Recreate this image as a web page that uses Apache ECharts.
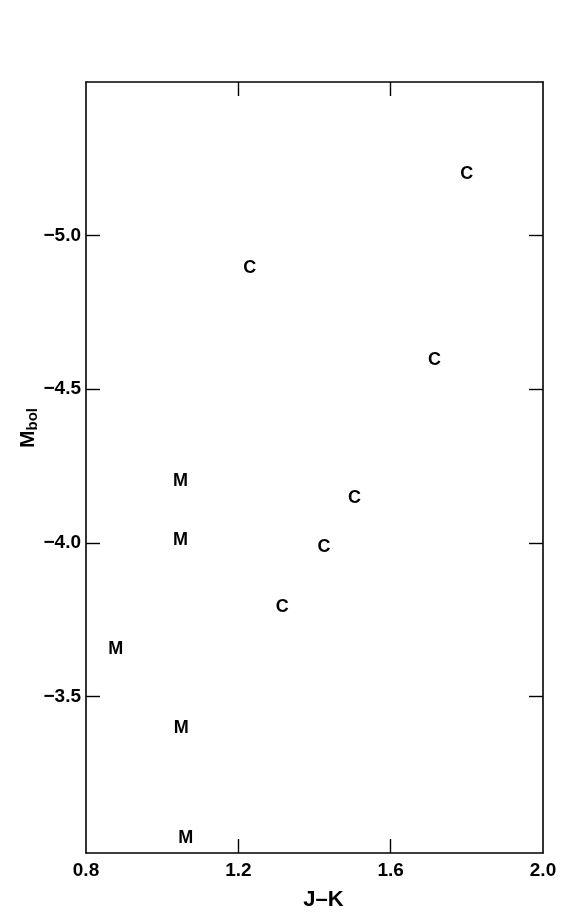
<!DOCTYPE html>
<html>
<head>
<meta charset="utf-8">
<script src="https://cdn.jsdelivr.net/npm/echarts@6/dist/echarts.min.js"></script>
<style>html,body{margin:0;padding:0;background:#fff}#c{width:570px;height:919px}</style>
</head>
<body>
<div id="c"></div>
<script>
// Carbon stars (C)
var cJK   = [1.80, 1.23, 1.715, 1.505, 1.425, 1.315];
var cMbol = [-5.20, -4.895, -4.595, -4.147, -3.987, -3.792];
// M stars (M)
var mJK   = [1.048, 1.048, 0.878, 1.050, 1.062];
var mMbol = [-4.201, -4.009, -3.654, -3.398, -3.040];
var xTicks = [0.8, 1.2, 1.6, 2.0];
var yTicks = [-5.0, -4.5, -4.0, -3.5];

function pairs(xs, ys){ return xs.map(function(x,i){ return [x, ys[i]]; }); }

var FONT = '"Liberation Sans", Arial, Helvetica, sans-serif';
var chart = echarts.init(document.getElementById('c'));
var axisLine = {show:true, lineStyle:{color:'#000', width:1.6}};
function tick(vals){ return {show:true, inside:true, length:14, customValues:vals, lineStyle:{color:'#000', width:1.4}}; }

function yFmt(v){
  for (var i=0;i<yTicks.length;i++) if (Math.abs(v-yTicks[i])<1e-6) return '\u2212' + Math.abs(v).toFixed(1);
  return '';
}
function xFmt(v){
  for (var i=0;i<xTicks.length;i++) if (Math.abs(v-xTicks[i])<1e-6) return v.toFixed(1);
  return '';
}
var labelStyle = {show:true, position:'inside', fontFamily:FONT, fontWeight:'bold', fontSize:18, color:'#000', opacity:1, textBorderWidth:0};

chart.setOption({
  animation:false,
  backgroundColor:'#fff',
  grid:{left:86, top:82, right:27, bottom:66},
  xAxis:[{
    type:'value', min:0.8, max:2.0, interval:0.4, position:'bottom',
    axisLine:axisLine, axisTick:tick([1.2, 1.6]), splitLine:{show:false},
    axisLabel:{formatter:xFmt, fontFamily:FONT, fontWeight:'bold', fontSize:19, color:'#000', margin:8, showMinLabel:true, showMaxLabel:true},
    name:'J\u2013K', nameLocation:'middle', nameGap:36,
    nameTextStyle:{fontFamily:FONT, fontWeight:'bold', fontSize:22, color:'#000', padding:[0,0,0,18]}
  },{
    type:'value', min:0.8, max:2.0, interval:0.4, position:'top',
    axisLine:axisLine, axisTick:tick([1.2, 1.6]), splitLine:{show:false}, axisLabel:{show:false}
  }],
  yAxis:[{
    type:'value', min:-5.5, max:-2.99, interval:0.5, inverse:true, position:'left',
    axisLine:axisLine, axisTick:tick(yTicks), splitLine:{show:false},
    axisLabel:{formatter:yFmt, fontFamily:FONT, fontWeight:'bold', fontSize:19, color:'#000', margin:5, showMaxLabel:false}
  },{
    type:'value', min:-5.5, max:-2.99, interval:0.5, inverse:true, position:'right',
    axisLine:axisLine, axisTick:tick(yTicks), splitLine:{show:false}, axisLabel:{show:false}
  }],
  graphic:[{
    type:'text', left:18, top:408, rotation:Math.PI/2,
    style:{
      text:'{m|M}{s|bol}',
      rich:{
        m:{fontFamily:FONT, fontWeight:'bold', fontSize:21, fill:'#000'},
        s:{fontFamily:FONT, fontWeight:'bold', fontSize:15, fill:'#000', padding:[8,0,0,0]}
      }
    }
  }],
  series:[{
    name:'C', type:'scatter', data:pairs(cJK, cMbol), symbolSize:18,
    itemStyle:{color:'rgba(0,0,0,0)'},
    label:Object.assign({formatter:'C'}, labelStyle)
  },{
    name:'M', type:'scatter', data:pairs(mJK, mMbol), symbolSize:18,
    itemStyle:{color:'rgba(0,0,0,0)'},
    label:Object.assign({formatter:'M'}, labelStyle)
  }]
});
</script>
</body>
</html>
